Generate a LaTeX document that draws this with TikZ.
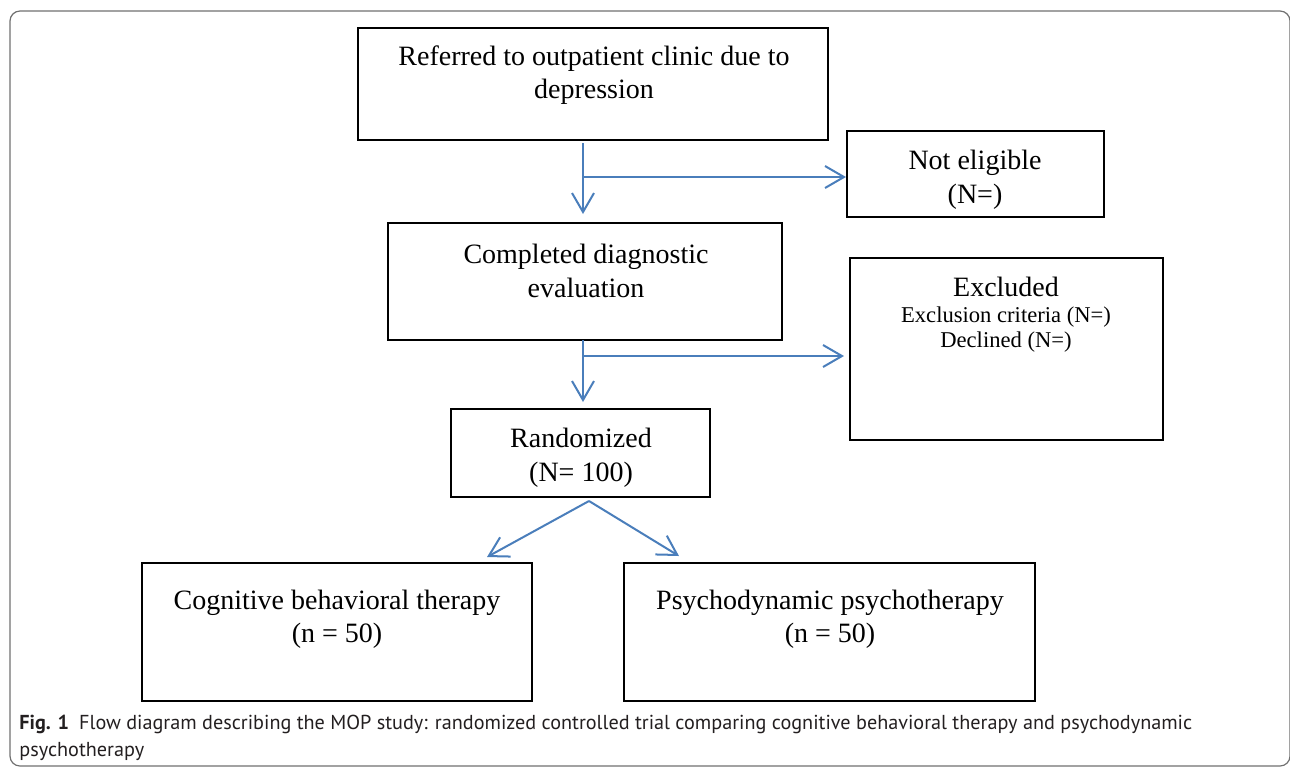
\documentclass[tikz,border=0pt]{standalone}
\usepackage{fontspec}
\setmainfont{Liberation Serif}
\newfontfamily\capfont{PT Sans}
\usetikzlibrary{arrows.meta,calc}
\definecolor{arrblue}{HTML}{4A7EBB}
\definecolor{framegray}{HTML}{707070}
\definecolor{captext}{HTML}{231F20}
\begin{document}
\begin{tikzpicture}[x=0.5pt,y=-0.5pt,
  box/.style={draw=black,line width=1pt,inner sep=0pt},
  txt/.style={align=center,inner sep=0pt,font=\fontsize{14}{16.75}\selectfont},
  arr/.style={draw=arrblue,line width=1pt,-{Straight Barb[length=9.5pt,width=11pt]}}]
\useasboundingbox (0,0) rectangle (1290,768);
\draw[framegray,line width=0.6pt,rounded corners=5pt] (10,11) rectangle (1290,766);

% boxes
\node[box,minimum width=235pt,minimum height=56pt] (ref) at (593,84) {};
\node[box,minimum width=128.5pt,minimum height=43pt] (ne) at (975.5,174) {};
\node[box,minimum width=197pt,minimum height=58.5pt] (comp) at (585,281.5) {};
\node[box,minimum width=156.5pt,minimum height=91pt] (exc) at (1006.5,349) {};
\node[box,minimum width=129.5pt,minimum height=44pt] (rand) at (580.5,453) {};
\node[box,minimum width=195pt,minimum height=69pt] (cbt) at (337,632) {};
\node[box,minimum width=205.5pt,minimum height=69pt] (psy) at (829.5,632) {};

% texts
\node[txt] (ref-t) at (594,75) {Referred to outpatient clinic due to\\depression};
\node[txt] (ne-t) at (975,180) {Not eligible\\(N=)};
\node[txt] (comp-t) at (586,271) {Completed diagnostic\\evaluation};
\node[txt] (exc-t) at (1006,287) {Excluded};
\node[txt,font=\fontsize{11.3}{12.5}\selectfont] (exc-t2) at (1006,330) {Exclusion criteria (N=)\\Declined (N=)};
\node[txt] (rand-t) at (581,458) {Randomized\\(N= 100)};
\node[txt] (cbt-t) at (337,619) {Cognitive behavioral therapy\\(n = 50)};
\node[txt] (psy-t) at (830,619) {Psychodynamic psychotherapy\\(n = 50)};

% connectors
\coordinate (s1) at (583,143);
\coordinate (j1) at (583,177);
\draw[arr,shorten >=4pt] (s1) -- (s1 |- comp.north);
\draw[arr] (j1) -- (j1 -| ne.west);
\coordinate (s2) at (583,340);
\coordinate (j2) at (583,356);
\draw[arr,shorten >=3pt] (s2) -- (s2 |- rand.north);
\draw[arr,shorten >=2.5pt] (j2) -- (j2 -| exc.west);
\coordinate (s3) at (589,501);
\draw[arr] (s3) -- ([xshift=75pt,yshift=2.5pt]cbt.north);
\draw[arr] (s3) -- ([xshift=-75.25pt,yshift=3pt]psy.north);

% caption
\node[anchor=north west,align=left,inner sep=0pt,text=captext,
      font=\capfont\fontsize{10.1}{13.5}\selectfont] (cap) at (19,715)
  {\textbf{Fig. 1}\hspace{5pt}Flow diagram describing the MOP study: randomized controlled trial comparing cognitive behavioral therapy and psychodynamic\\psychotherapy};
\end{tikzpicture}
\end{document}
